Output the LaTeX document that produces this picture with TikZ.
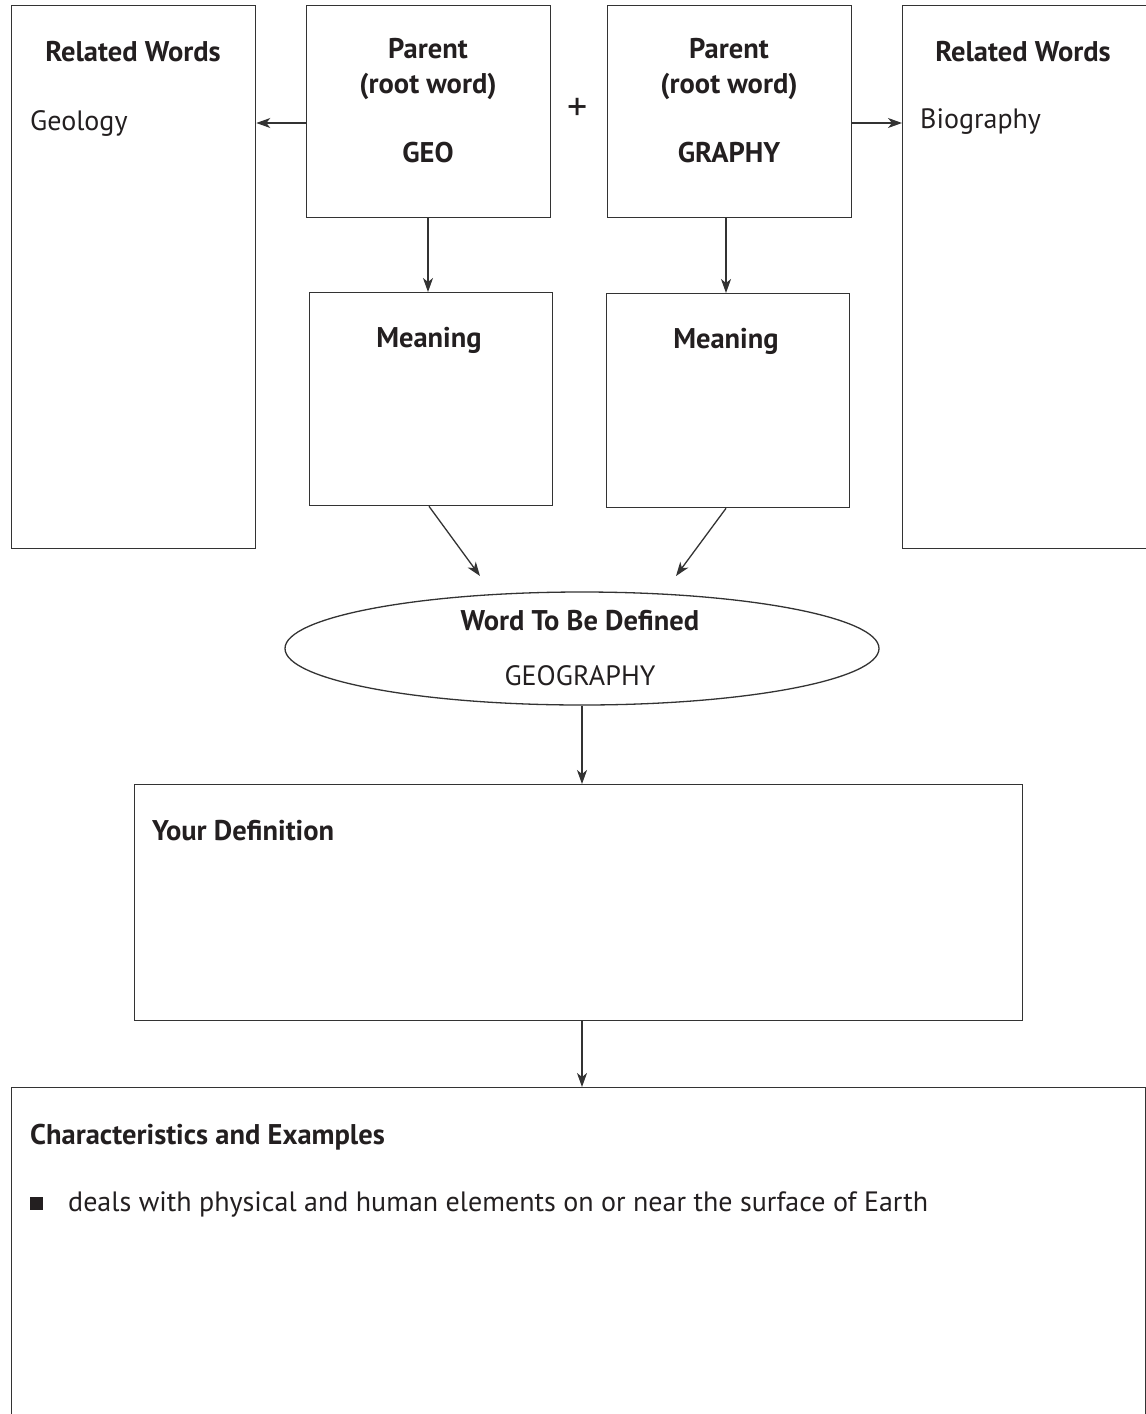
\documentclass[tikz,border=0pt]{standalone}
\usepackage{fontspec}
\setmainfont{PT Sans}
\usetikzlibrary{arrows.meta,shapes.geometric}
\definecolor{ink}{HTML}{231F20}
\definecolor{linec}{HTML}{333333}
\begin{document}
\begin{tikzpicture}[x=1pt,y=-1pt,
  box/.style={draw=linec,line width=1.3pt,rectangle,inner sep=0pt},
  txt/.style={text=ink,inner sep=0pt,font=\fontsize{28}{35}\selectfont},
  btxt/.style={txt,font=\fontsize{28.5}{35}\selectfont\bfseries},
  arr/.style={draw=linec,line width=1.3pt,-{Stealth[length=14pt,width=10pt,inset=4pt]}}]
\useasboundingbox (0,0) rectangle (1146,1414);
\clip (0,0) rectangle (1146,1414);
% boxes
\node[box,anchor=north west,minimum width=244,minimum height=543] (rwl) at (11,5) {};
\node[box,anchor=north west,minimum width=244,minimum height=543] (rwr) at (902,5) {};
\node[box,anchor=north west,minimum width=244,minimum height=212] (pgeo) at (306,5) {};
\node[box,anchor=north west,minimum width=244,minimum height=212] (pgra) at (607,5) {};
\node[box,anchor=north west,minimum width=243,minimum height=213] (mgeo) at (309,292) {};
\node[box,anchor=north west,minimum width=243,minimum height=214] (mgra) at (606,293) {};
\node[draw=linec,line width=1.3pt,ellipse,minimum width=594,minimum height=113,inner sep=0pt] (word) at (582,648.5) {};
\node[box,anchor=north west,minimum width=888,minimum height=236] (def) at (134,784) {};
\node[box,anchor=north west,minimum width=1134,minimum height=400] (chars) at (11,1087) {};
% texts
\node[btxt] (rwlt) at (133,52) {Related Words};
\node[btxt] (rwrt) at (1023,52) {Related Words};
\node[txt,anchor=west] (geol) at (30,123) {Geology};
\node[txt,anchor=west] (biog) at (920,122) {Biography};
\node[btxt,align=center,anchor=north] (pgeot) at (428,38) {Parent\\(root word)\\[34pt]GEO};
\node[btxt,align=center,anchor=north] (pgrat) at (729,38) {Parent\\(root word)\\[34pt]GRAPHY};
\node[txt,font=\fontsize{40}{40}\selectfont] (plus) at (578,109) {+};
\node[btxt] (mgeot) at (429,340) {Meaning};
\node[btxt] (mgrat) at (726,341) {Meaning};
\node[btxt] (wordt) at (580,621) {Word To Be Defined};
\node[txt] (wordv) at (580,676) {GEOGRAPHY};
\node[btxt,anchor=west] (deft) at (152,831) {Your Definition};
\node[btxt,anchor=west] (charst) at (30,1137) {Characteristics and Examples};
\node[fill=ink,minimum size=13,inner sep=0pt] (bul) at (36,1203.5) {};
\node[txt,anchor=west] (item) at (68,1204) {deals with physical and human elements on or near the surface of Earth};
% connectors
\draw[arr] (pgeo.west |- 0,123) -- (rwl.east |- 0,123);
\draw[arr] (pgra.east |- 0,123) -- (rwr.west |- 0,123);
\draw[arr] (pgeo.south -| 428,0) -- (mgeo.north -| 428,0);
\draw[arr] (pgra.south -| 726,0) -- (mgra.north -| 726,0);
\coordinate (wl) at (480,576);
\coordinate (wr) at (676,576);
\draw[arr] (mgeo.south -| 429,0) -- (wl);
\draw[arr] (mgra.south -| 726,0) -- (wr);
\draw[arr] (word.south) -- (def.north -| word.south);
\draw[arr] (def.south -| word.south) -- (chars.north -| word.south);
\end{tikzpicture}
\end{document}
